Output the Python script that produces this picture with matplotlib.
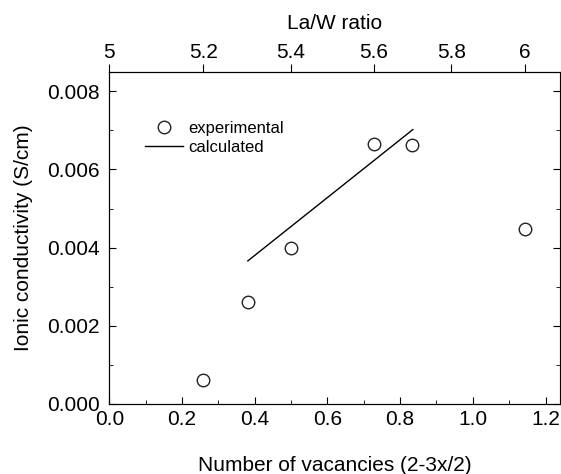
import numpy as np
import matplotlib.pyplot as plt
from matplotlib.ticker import MultipleLocator, NullLocator

plt.rcParams['font.family'] = ['Liberation Sans', 'DejaVu Sans']

# experimental points (number of vacancies vs ionic conductivity)
vacancies = [0.258, 0.381, 0.500, 0.727, 0.833, 1.143]
conductivity = [0.00062, 0.00260, 0.00399, 0.00665, 0.00662, 0.00448]

# calculated trend line
calc_x = [0.381, 0.835]
calc_y = [0.00366, 0.00702]

# top axis labels: La/W ratio
law_ticks = [5.0, 5.2, 5.4, 5.6, 5.8, 6.0]
law_labels = ['5', '5.2', '5.4', '5.6', '5.8', '6']


def law_to_vac(r):
    # La(28-x)W(4+x): La/W = (28-x)/(4+x), vacancies = 2 - 3x/2
    r = np.asarray(r, dtype=float)
    x = (28 - 4 * r) / (1 + r)
    return 2 - 1.5 * x


fig = plt.figure(figsize=(5.61, 4.74), dpi=100)
ax = fig.add_axes([0.1948, 0.1477, 0.8032, 0.701])

ax.plot(vacancies, conductivity, 'o', mfc='white', mec='#222222', mew=1.0,
        ms=9, label='experimental', zorder=3)
ax.plot(calc_x, calc_y, '-', color='black', lw=1.0, label='calculated')

ax.set_xlim(0, 1.2394)
ax.set_ylim(0, 0.0085)
ax.xaxis.set_major_locator(MultipleLocator(0.2))
ax.xaxis.set_minor_locator(MultipleLocator(0.1))
ax.yaxis.set_major_locator(MultipleLocator(0.002))
ax.yaxis.set_minor_locator(MultipleLocator(0.001))
ax.xaxis.set_major_formatter(plt.FuncFormatter(lambda v, p: f'{v:.1f}'))
ax.yaxis.set_major_formatter(plt.FuncFormatter(lambda v, p: f'{v:.3f}'))
ax.tick_params(axis='both', which='both', direction='in', right=True, top=False,
               labelsize=15)
ax.tick_params(which='major', length=5)
ax.tick_params(which='minor', length=3)
ax.tick_params(axis='x', pad=4)
ax.tick_params(axis='y', pad=7)
ax.spines['right'].set_color('#888888')

ax.set_xlabel('Number of vacancies (2-3x/2)', fontsize=15, labelpad=20)
ax.set_ylabel('Ionic conductivity (S/cm)', fontsize=15, labelpad=10)

ax2 = ax.twiny()
ax2.set_xlim(ax.get_xlim())
ax2.set_xticks(law_to_vac(law_ticks))
ax2.set_xticklabels(law_labels)
ax2.xaxis.set_minor_locator(NullLocator())
ax2.tick_params(axis='x', direction='out', length=6, labelsize=15, pad=1)
ax2.set_xlabel('La/W ratio', fontsize=15, labelpad=10)

leg = ax.legend(loc='upper left', bbox_to_anchor=(0.06, 0.876), frameon=False,
                fontsize=12, handlelength=2.3, handletextpad=0.3,
                labelspacing=0.2, borderpad=0)

fig.savefig('out.png', dpi=100)
